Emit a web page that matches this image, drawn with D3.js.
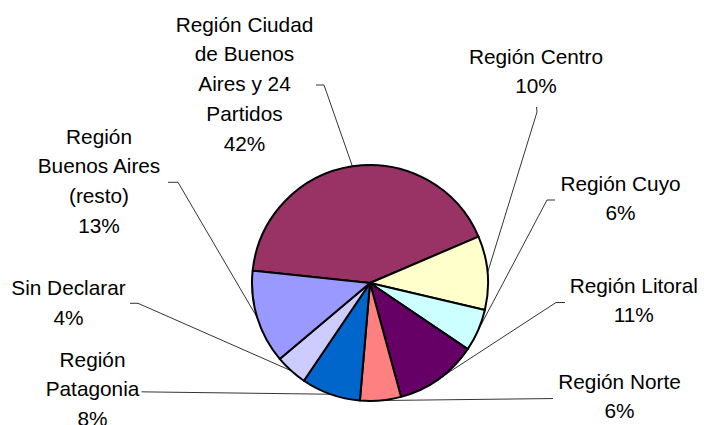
<!DOCTYPE html>
<meta charset="utf-8">
<style>
body { margin: 0; background: #fff; }
svg text {
    font-family: 'Liberation Sans', Arial, sans-serif;
    font-size: 20.8px;
    fill: #000;
}
.leader {
    fill: none;
    stroke: #000;
    stroke-width: 0.8px;
}
.slice {
    stroke: #000;
    stroke-width: 2px;
}
</style>
<svg width="704" height="425" id="svg"></svg>
<script src="https://cdn.jsdelivr.net/npm/d3@7"></script>
<script>

// data, clockwise from the big slice
let regions = ['Región Ciudad de Buenos Aires y 24 Partidos', 'Región Centro', 'Región Cuyo', 'Región Litoral',
    'Región Norte', 'Región Patagonia', 'Sin Declarar', 'Región Buenos Aires (resto)']
let shares = [41.9, 10.1, 5.8, 11.3, 5.6, 8.1, 4.4, 12.8]
let labelLines = [
    ['Región Ciudad', 'de Buenos', 'Aires y 24', 'Partidos'],
    ['Región Centro'],
    ['Región Cuyo'],
    ['Región Litoral'],
    ['Región Norte'],
    ['Región', 'Patagonia'],
    ['Sin Declarar'],
    ['Región', 'Buenos Aires', '(resto)']
]
let colors = ['#993366', '#FFFFCC', '#CCFFFF', '#660066', '#FF8080', '#0066CC', '#CCCCFF', '#9999FF']

function translate(x, y) {
    return 'translate(' + x + ',' + y + ')';
}

let cx = 370, cy = 283, radius = 118
let lineH = 29.8

// label block layout: x center, first baseline, then leader start points
let layout = [
    {x: 244.5, y: 31.5, lead: [[316, 85], [324, 85]]},
    {x: 536, y: 63.5, lead: [[536.5, 107], [537, 112]]},
    {x: 620.5, y: 190.5, lead: [[555, 200], [547, 200]]},
    {x: 633.8, y: 292.5, lead: [[565, 302.5], [556, 302.5]]},
    {x: 619.5, y: 388.5, lead: [[553, 398.5], [548, 398.6]]},
    {x: 92.5, y: 366.5, lead: [[141.5, 391.8], [146, 391.9]]},
    {x: 68.5, y: 295, lead: [[130, 303.3], [138, 303.3]]},
    {x: 99, y: 143.5, lead: [[168, 182.3], [178, 182.3]]}
]

let svg = d3.select('#svg')

let pie = d3.pie()
    .sort(null)
    .value(d => d)
    .startAngle(-84 * Math.PI / 180)
    .endAngle(-84 * Math.PI / 180 + 2 * Math.PI)

let arcs = pie(shares)

let arc = d3.arc().innerRadius(0).outerRadius(radius)
let edge = d3.arc().innerRadius(radius).outerRadius(radius)

let g = svg.append('g').attr('transform', translate(cx, cy))

g.selectAll('.slice')
    .data(arcs)
    .enter().append('path')
    .attr('class', 'slice')
    .attr('fill', (d, i) => colors[i])
    .attr('stroke-linejoin', 'round')
    .attr('d', arc)

// leader lines
let line = d3.line()
arcs.forEach((d, i) => {
    let c = edge.centroid(d)
    let pts = layout[i].lead.concat([[cx + c[0], cy + c[1]]])
    svg.append('path')
        .attr('class', 'leader')
        .attr('d', line(pts))
})

// labels
arcs.forEach((d, i) => {
    let lines = labelLines[i].concat([Math.round(shares[i]) + '%'])
    let t = svg.append('text')
        .attr('text-anchor', 'middle')
        .attr('transform', translate(layout[i].x, layout[i].y))
    lines.forEach((s, j) => {
        t.append('tspan')
            .attr('x', 0)
            .attr('y', j * lineH)
            .text(s)
    })
})

</script>
